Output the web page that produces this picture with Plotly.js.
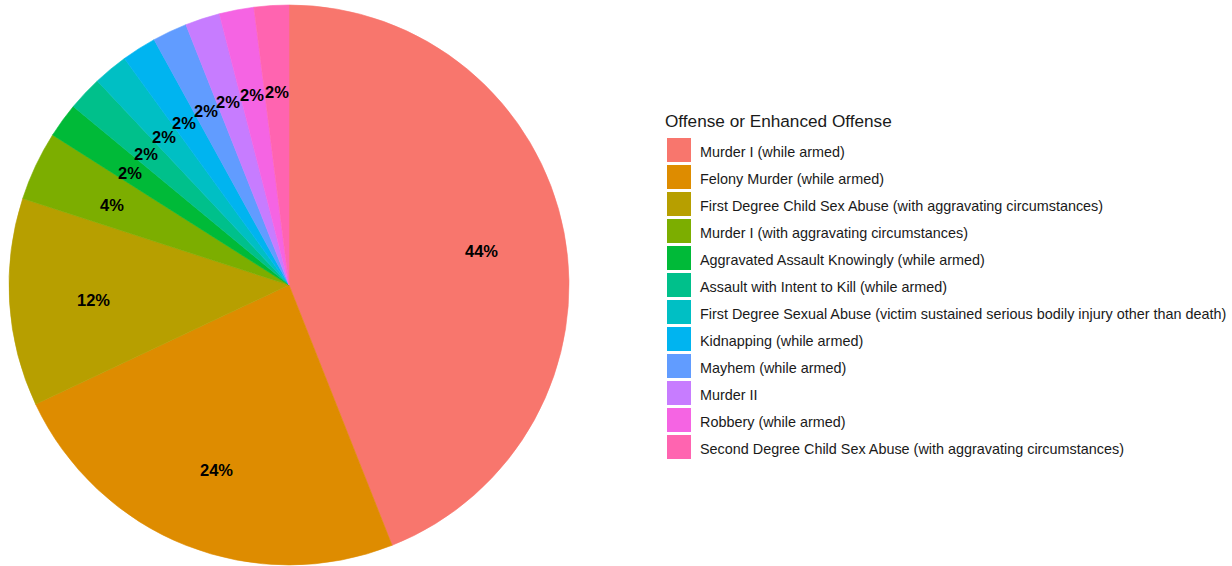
<!DOCTYPE html>
<html>
<head>
<meta charset="utf-8">
<script src="https://cdn.plot.ly/plotly-3.0.1.min.js"></script>
<style>
  html, body { margin: 0; padding: 0; background: #ffffff; }
  #chart { width: 1232px; height: 566px; }
</style>
</head>
<body>
<div id="chart"></div>
<script>
// Offense categories, in slice order (clockwise from 12 o'clock)
const offenses = [
  "Murder I (while armed)",
  "Felony Murder (while armed)",
  "First Degree Child Sex Abuse (with aggravating circumstances)",
  "Murder I (with aggravating circumstances)",
  "Aggravated Assault Knowingly (while armed)",
  "Assault with Intent to Kill (while armed)",
  "First Degree Sexual Abuse (victim sustained serious bodily injury other than death)",
  "Kidnapping (while armed)",
  "Mayhem (while armed)",
  "Murder II",
  "Robbery (while armed)",
  "Second Degree Child Sex Abuse (with aggravating circumstances)"
];

// Share of cases per offense, in percent
const shares = [44, 24, 12, 4, 2, 2, 2, 2, 2, 2, 2, 2];

const palette = [
  "#F8766D", "#DE8C00", "#B79F00", "#7CAE00", "#00BA38", "#00C08B",
  "#00BFC4", "#00B4F0", "#619CFF", "#C77CFF", "#F564E3", "#FF64B0"
];

const legendTitle = "Offense or Enhanced Offense";

const FONT = "'Liberation Sans', Arial, sans-serif";
const W = 1232, H = 566;
// Pie placement in pixels
const cx = 289, cy = 285, R = 280;
const labelR = 196, labelDy = 3;

const pie = {
  type: "pie",
  labels: offenses,
  values: shares,
  sort: false,
  direction: "clockwise",
  rotation: 0,
  textinfo: "none",
  hoverinfo: "label+percent",
  marker: { colors: palette, line: { color: palette, width: 0.6 } },
  domain: {
    x: [(cx - R) / W, (cx + R) / W],
    y: [(H - (cy + R)) / H, (H - (cy - R)) / H]
  },
  showlegend: false
};

const annotations = [];
const shapes = [];

// Percentage labels at each slice's mid-angle
const total = shares.reduce((a, b) => a + b, 0);
let acc = 0;
shares.forEach((v) => {
  const mid = (acc + v / 2) / total * 2 * Math.PI;
  acc += v;
  const px = cx + labelR * Math.sin(mid);
  const py = cy - labelR * Math.cos(mid) + labelDy;
  annotations.push({
    xref: "paper", yref: "paper",
    x: px / W, y: (H - py) / H,
    xanchor: "center", yanchor: "middle",
    text: "<b>" + Math.round(v / total * 100) + "%</b>",
    showarrow: false,
    font: { family: FONT, size: 16.5, color: "#000000" }
  });
});

// Legend: title, colour keys and labels
const legX = 663, legTitleY = 121;
const keyX0 = 667, keyW = 24, keyH = 24, firstKeyMid = 150, step = 27;

annotations.push({
  xref: "paper", yref: "paper",
  x: legX / W, y: (H - legTitleY) / H,
  xanchor: "left", yanchor: "middle",
  text: legendTitle, showarrow: false,
  font: { family: FONT, size: 17.2, color: "#1a1a1a" }
});

offenses.forEach((name, i) => {
  const mid = firstKeyMid + i * step;
  shapes.push({
    type: "rect", xref: "paper", yref: "paper",
    x0: keyX0 / W, x1: (keyX0 + keyW) / W,
    y0: (H - (mid + keyH / 2)) / H, y1: (H - (mid - keyH / 2)) / H,
    fillcolor: palette[i], line: { width: 0 }
  });
  annotations.push({
    xref: "paper", yref: "paper",
    x: 698 / W, y: (H - (mid + 2)) / H,
    xanchor: "left", yanchor: "middle",
    text: name, showarrow: false,
    font: { family: FONT, size: 14.4, color: "#1a1a1a" }
  });
});

const layout = {
  width: W, height: H,
  margin: { l: 0, r: 0, t: 0, b: 0 },
  paper_bgcolor: "#ffffff",
  plot_bgcolor: "#ffffff",
  showlegend: false,
  annotations: annotations,
  shapes: shapes
};

Plotly.newPlot("chart", [pie], layout, { displayModeBar: false, staticPlot: true });
</script>
</body>
</html>
